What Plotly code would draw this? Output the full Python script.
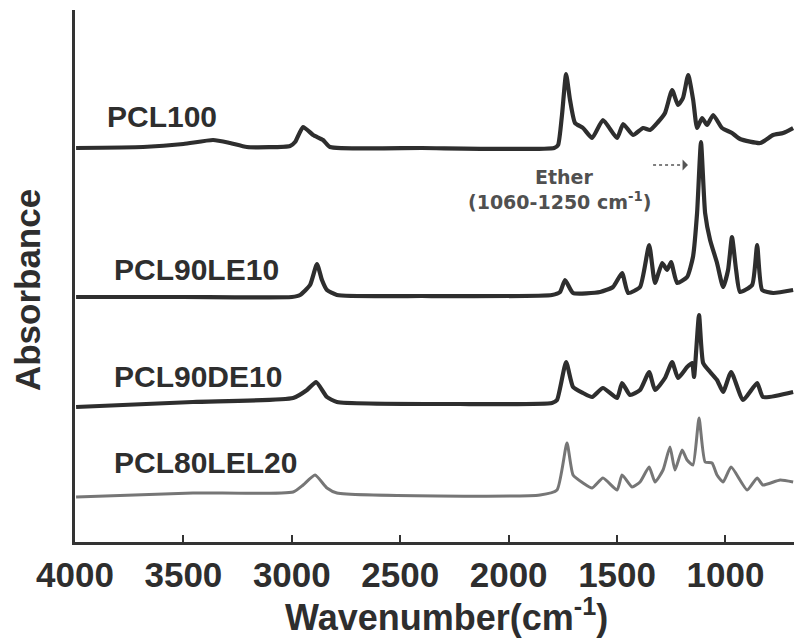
import plotly.graph_objects as go

# FTIR spectra, stacked with vertical offsets (absorbance, a.u.)
names = ["PCL100", "PCL90LE10", "PCL90DE10", "PCL80LEL20"]
offsets = [3.94, 2.45, 1.39, 0.49]

pcl100_wn = [3995, 3686, 3500, 3363, 3285, 3207, 3008, 2985, 2948, 2902, 2856, 2824, 2400,
             1790, 1772, 1754, 1735, 1717, 1694, 1657, 1615, 1565, 1500, 1472, 1426, 1380,
             1348, 1311, 1279, 1246, 1219, 1196, 1172, 1149, 1131, 1108, 1085, 1057, 1016,
             970, 933, 840, 780, 734, 688]
pcl100_abs = [0.00, 0.01, 0.04, 0.08, 0.05, 0.01, 0.02, 0.06, 0.21, 0.13, 0.08, 0.01, 0.00,
              0.00, 0.03, 0.33, 0.74, 0.48, 0.25, 0.20, 0.10, 0.28, 0.10, 0.24, 0.13, 0.20,
              0.18, 0.26, 0.35, 0.58, 0.43, 0.50, 0.73, 0.48, 0.20, 0.30, 0.23, 0.33, 0.20,
              0.15, 0.09, 0.05, 0.13, 0.15, 0.20]

pcl90le10_wn = [3995, 3500, 3000, 2962, 2916, 2884, 2861, 2838, 2792, 2400, 1800, 1763, 1740,
                1703, 1578, 1519, 1477, 1449, 1394, 1352, 1325, 1292, 1269, 1251, 1223, 1177,
                1150, 1131, 1113, 1094, 1071, 1039, 1011, 988, 970, 951, 933, 877, 854, 831,
                780, 688]
pcl90le10_abs = [0.00, 0.00, 0.00, 0.02, 0.12, 0.33, 0.17, 0.07, 0.02, 0.01, 0.02, 0.05, 0.17,
                 0.04, 0.05, 0.10, 0.24, 0.04, 0.10, 0.52, 0.14, 0.34, 0.27, 0.35, 0.14, 0.20,
                 0.40, 0.84, 1.55, 0.84, 0.57, 0.34, 0.10, 0.27, 0.60, 0.27, 0.05, 0.12, 0.52,
                 0.07, 0.04, 0.07]

pcl90de10_wn = [3995, 3456, 2994, 2930, 2888, 2838, 2792, 2224, 1800, 1777, 1735, 1703, 1657,
                1615, 1565, 1500, 1477, 1440, 1394, 1352, 1325, 1279, 1246, 1219, 1177, 1154,
                1145, 1122, 1103, 1071, 1039, 1011, 974, 919, 854, 827, 688]
pcl90de10_abs = [-0.04, 0.01, 0.05, 0.13, 0.21, 0.06, 0.01, -0.01, 0.00, 0.03, 0.41, 0.16, 0.10,
                 0.06, 0.15, 0.05, 0.20, 0.08, 0.13, 0.31, 0.13, 0.25, 0.41, 0.25, 0.36, 0.40,
                 0.26, 0.88, 0.40, 0.31, 0.23, 0.11, 0.31, 0.03, 0.20, 0.06, 0.11]

pcl80lel20_wn = [3995, 3456, 2994, 2948, 2893, 2838, 2792, 1855, 1777, 1731, 1703, 1657, 1615,
                 1565, 1500, 1477, 1431, 1394, 1352, 1325, 1288, 1256, 1233, 1200, 1177, 1150,
                 1122, 1094, 1062, 1039, 1011, 974, 900, 854, 827, 748, 688]
pcl80lel20_abs = [-0.04, 0.00, 0.01, 0.08, 0.18, 0.05, 0.00, -0.02, 0.03, 0.50, 0.18, 0.10, 0.05,
                  0.15, 0.03, 0.18, 0.06, 0.11, 0.26, 0.11, 0.23, 0.46, 0.23, 0.43, 0.33, 0.28,
                  0.75, 0.31, 0.30, 0.18, 0.11, 0.26, 0.03, 0.15, 0.08, 0.13, 0.11]

x_ticks = [4000, 3500, 3000, 2500, 2000, 1500, 1000]

spectra = [(pcl100_wn, pcl100_abs), (pcl90le10_wn, pcl90le10_abs),
           (pcl90de10_wn, pcl90de10_abs), (pcl80lel20_wn, pcl80lel20_abs)]
line_colors = ["#2e2e2e", "#2e2e2e", "#2e2e2e", "#767676"]
line_widths = [4.2, 4.2, 4.2, 3.0]
label_x = [3862, 3829, 3829, 3829]
label_y = [4.26, 2.73, 1.66, 0.80]

FONT = "Liberation Sans, Arial, sans-serif"
INK = "#2e2e2e"

fig = go.Figure()
for (wn, ab), off, col, lw, nm in zip(spectra, offsets, line_colors, line_widths, names):
    fig.add_trace(go.Scatter(
        x=wn, y=[a + off for a in ab], mode="lines", name=nm,
        line=dict(color=col, width=lw, shape="spline", smoothing=0.5),
        showlegend=False, hoverinfo="skip"))

for nm, lx, ly in zip(names, label_x, label_y):
    fig.add_annotation(x=lx, y=ly, xref="x", yref="y", text=nm, showarrow=False,
                       xanchor="left", yanchor="middle",
                       font=dict(family=FONT, size=30, color=INK, weight="bold"))

# ether band note with dashed arrow
fig.add_annotation(x=1745, y=3.65, xref="x", yref="y", text="Ether", showarrow=False,
                   font=dict(family="DejaVu Sans", size=19, color="#505050", weight="bold"))
fig.add_annotation(x=1765, y=3.41, xref="x", yref="y", text="(1060-1250 cm<sup>-1</sup>)",
                   showarrow=False,
                   font=dict(family="DejaVu Sans", size=19, color="#505050", weight="bold"))
fig.add_shape(type="line", x0=1334, x1=1190, y0=3.77, y1=3.77, xref="x", yref="y",
              line=dict(color="#555555", width=1.5, dash="dot"))
fig.add_annotation(x=1173, y=3.77, ax=1195, ay=3.77, axref="x", ayref="y", xref="x", yref="y",
                   text="", showarrow=True, arrowhead=1, arrowsize=1.2, arrowwidth=1.5,
                   arrowcolor="#555555")

# axis titles
fig.add_annotation(x=0.517, y=-0.137, xref="paper", yref="paper",
                   text="Wavenumber(cm<sup>-1</sup>)", showarrow=False,
                   xanchor="center", yanchor="middle",
                   font=dict(family=FONT, size=36, color=INK, weight="bold"))
fig.add_annotation(x=-0.065, y=0.474, xref="paper", yref="paper", text="Absorbance",
                   showarrow=False, textangle=-90, xanchor="center", yanchor="middle",
                   font=dict(family=FONT, size=35, color=INK, weight="bold"))

fig.update_xaxes(range=[4000, 684], tickvals=x_ticks, ticktext=[str(t) for t in x_ticks],
                 ticks="inside", ticklen=7, tickwidth=2, tickcolor="#333333",
                 ticklabelstandoff=0,
                 showline=True, linewidth=3, linecolor="#333333", showgrid=False,
                 zeroline=False,
                 tickfont=dict(family=FONT, size=35, color=INK, weight="bold"))
fig.update_yaxes(range=[0, 5.32], showline=True, linewidth=3, linecolor="#333333",
                 showgrid=False, zeroline=False, showticklabels=False, ticks="")

fig.update_layout(width=794, height=641, margin=dict(l=75, r=0, t=10, b=99),
                  plot_bgcolor="white", paper_bgcolor="white")

fig.write_html("out.html")
